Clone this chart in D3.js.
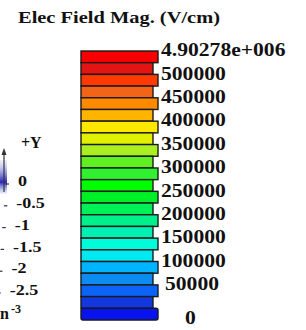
<!DOCTYPE html>
<html>
<head>
<meta charset="utf-8">
<script src="https://cdn.jsdelivr.net/npm/d3@7"></script>
<style>
  body { margin: 0; background: #fff; }
  text { font-family: "Liberation Serif", "Times New Roman", serif; font-weight: bold; fill: #111; }
</style>
</head>
<body>
<svg id="chart"></svg>
<script>
// Legend title
const title = "Elec Field Mag. (V/cm)";

// Contour level colours, top (max) to bottom (0)
const levelColors = [
    "#f80000", "#e41414", "#ff3a00", "#f46418", "#ff8a00", "#ffb400",
    "#ffe800", "#e0f000", "#aaf020", "#60f020", "#30f030", "#00ff00",
    "#00f028", "#00f058", "#00f08c", "#00f0b4", "#00fcd8", "#00e8f0",
    "#00b4ff", "#0c8cf0", "#0a64f8", "#1438e0", "#0814f0"
];

// Legend labels, top to bottom
const levelLabels = [
    "4.90278e+006", "500000", "450000", "400000", "350000", "300000",
    "250000", "200000", "150000", "100000", "50000", "0"
];

// Partial Y axis on the left (values x 10^-3)
const yTicks = [0, -0.5, -1, -1.5, -2, -2.5];

const width = 306, height = 330;

const svg = d3.select("#chart")
    .attr("width", width)
    .attr("height", height);

// Title
svg.append("text")
    .attr("x", 18)
    .attr("y", 23)
    .attr("font-size", 17.5)
    .attr("textLength", 202)
    .attr("lengthAdjust", "spacingAndGlyphs")
    .text(title);

// Band scale for the legend boxes
const y = d3.scaleBand()
    .domain(d3.range(levelColors.length))
    .range([51, 320]);

const boxLeft = 81;

svg.append("g")
    .selectAll("rect")
    .data(levelColors)
    .join("rect")
    .attr("x", boxLeft)
    .attr("y", (d, i) => y(i))
    .attr("width", (d, i) => (i % 2 === 0 ? 158 : 153) - boxLeft)
    .attr("height", y.bandwidth())
    .attr("rx", (d, i) => i === levelColors.length - 1 ? 2 : 0)
    .attr("fill", d => d)
    .attr("stroke", "#1a1a1a")
    .attr("stroke-width", 1.4);

// Labels sit on the top edge of every wide box; the last one at the bottom
const last = levelLabels.length - 1;
svg.append("g")
    .selectAll("text")
    .data(levelLabels)
    .join("text")
    .attr("transform", (d, i) => {
        const ly = i === last ? y(levelColors.length - 1) + y.bandwidth() - 2 : y(i * 2) - 1;
        const lx = 161 + (d === "0" ? 24 : d.length === 5 ? 4 : 0);
        return "translate(" + lx + "," + ly + ") scale(1.2,1)";
    })
    .attr("dy", "0.35em")
    .attr("font-size", 18)
    .text(d => d);

// Left fragment: the plot edge with its Y axis
const defs = svg.append("defs");
const grad = defs.append("linearGradient")
    .attr("id", "blueEdge")
    .attr("x1", 0).attr("y1", 0).attr("x2", 0).attr("y2", 1);
grad.append("stop").attr("offset", "0%").attr("stop-color", "#c8c8f0").attr("stop-opacity", 0.3);
grad.append("stop").attr("offset", "65%").attr("stop-color", "#2828b8");
grad.append("stop").attr("offset", "100%").attr("stop-color", "#a0b8f0").attr("stop-opacity", 0.2);

svg.append("rect")
    .attr("x", 0).attr("y", 160)
    .attr("width", 7).attr("height", 34)
    .attr("fill", "url(#blueEdge)");

// +Y arrow
svg.append("line")
    .attr("x1", 4).attr("y1", 152)
    .attr("x2", 4).attr("y2", 192)
    .attr("stroke", "#333")
    .attr("stroke-width", 1.2);
svg.append("path")
    .attr("d", "M4,148 L1.5,155 L6.5,155 Z")
    .attr("fill", "#333");
svg.append("text")
    .attr("x", 21)
    .attr("y", 148)
    .attr("font-size", 16)
    .text("+Y");

// Slanted axis: ticks drift left as they go down
const yAxis = d3.scaleLinear()
    .domain([0, -2.5])
    .range([181, 290]);
const slant = x0 => v => x0 - (yAxis(v) - yAxis(0)) * 0.075;
const tickX = slant(9), labelX = slant(18);

const ticks = svg.append("g");
ticks.selectAll("line")
    .data(yTicks)
    .join("line")
    .attr("x1", d => tickX(d) - 3.5)
    .attr("x2", d => tickX(d))
    .attr("y1", d => yAxis(d) + 3)
    .attr("y2", d => yAxis(d) + 3)
    .attr("stroke", "#333")
    .attr("stroke-width", 1.2);
ticks.selectAll("text")
    .data(yTicks)
    .join("text")
    .attr("transform", d => "translate(" + labelX(d) + "," + yAxis(d) + ") scale(1.2,1)")
    .attr("dy", "0.35em")
    .attr("font-size", 15)
    .text(d => d3.format("")(d).replace("−", "-"));

// Exponent, clipped at the left edge
svg.append("text")
    .attr("x", 0)
    .attr("y", 319)
    .attr("font-size", 16)
    .text("n");
svg.append("text")
    .attr("x", 11)
    .attr("y", 312.5)
    .attr("font-size", 12)
    .text("-3");
</script>
</body>
</html>
